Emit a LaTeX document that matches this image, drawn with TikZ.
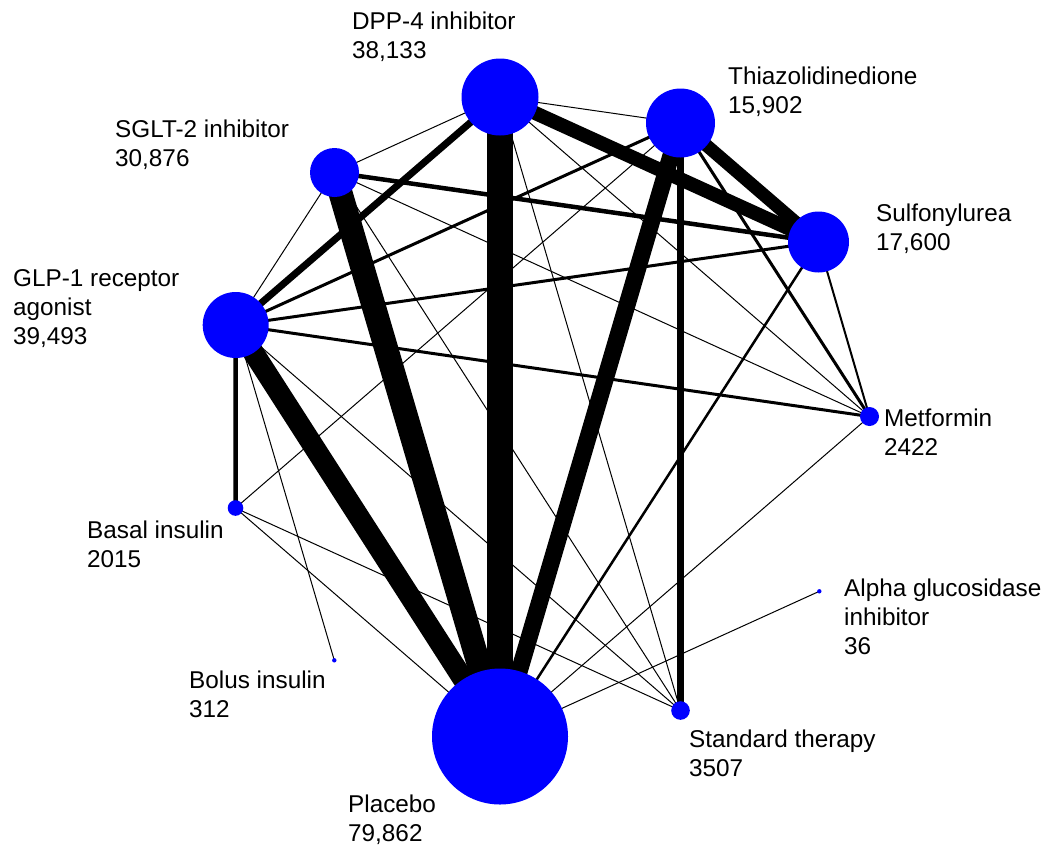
\documentclass[tikz,border=0pt]{standalone}
\usepackage{fontspec}
\setmainfont{Liberation Sans}
\pgfdeclarelayer{edges}
\pgfsetlayers{edges,main}
\begin{document}
\begin{tikzpicture}[x=1pt,y=-1pt,
  trt/.style={circle,fill=blue,draw=none,inner sep=0pt,minimum size=#1},
  lbl/.style={anchor=base west,inner sep=0pt,font=\fontsize{24.3}{29}\selectfont},
  thin/.style={line width=1pt},
  w/.style={line width=#1}]
\useasboundingbox (0,0) rectangle (1049,852);
% treatments
\node[trt=77pt]   (dpp)  at (500,97) {};
\node[trt=69pt]   (tzd)  at (680.5,123) {};
\node[trt=49pt]   (sglt) at (334.5,172.5) {};
\node[trt=61pt]   (su)   at (818.5,242) {};
\node[trt=66pt]   (glp)  at (235.7,325) {};
\node[trt=19pt]   (met)  at (869.5,416.5) {};
\node[trt=15.6pt] (bas)  at (235.5,508) {};
\node[trt=4.4pt]  (agi)  at (819.3,591.3) {};
\node[trt=4.4pt]  (bol)  at (334.3,660.3) {};
\node[trt=18.6pt] (std)  at (680.5,710.5) {};
\node[trt=136pt]  (plc)  at (500,736.5) {};
% labels
\node[lbl] (dppA) at (352,29) {DPP-4 inhibitor};
\node[lbl] (dppB) at (352,58) {38,133};
\node[lbl] (tzdA) at (728,84) {Thiazolidinedione};
\node[lbl] (tzdB) at (728,113) {15,902};
\node[lbl] (sgltA) at (115,137) {SGLT-2 inhibitor};
\node[lbl] (sgltB) at (115,166) {30,876};
\node[lbl] (suA) at (876,221) {Sulfonylurea};
\node[lbl] (suB) at (876,250) {17,600};
\node[lbl] (glpA) at (13,286) {GLP-1 receptor};
\node[lbl] (glpB) at (13,315) {agonist};
\node[lbl] (glpC) at (13,344) {39,493};
\node[lbl] (metA) at (884,426) {Metformin};
\node[lbl] (metB) at (884,455) {2422};
\node[lbl] (basA) at (87,538) {Basal insulin};
\node[lbl] (basB) at (87,567) {2015};
\node[lbl] (agiA) at (844,596) {Alpha glucosidase};
\node[lbl] (agiB) at (844,625) {inhibitor};
\node[lbl] (agiC) at (844,654) {36};
\node[lbl] (bolA) at (189,688) {Bolus insulin};
\node[lbl] (bolB) at (189,717) {312};
\node[lbl] (stdA) at (689,747) {Standard therapy};
\node[lbl] (stdB) at (689,776) {3507};
\node[lbl] (plcA) at (348,812) {Placebo};
\node[lbl] (plcB) at (348,841) {79,862};
% comparisons
\begin{pgfonlayer}{edges}
\draw[w=26pt] (dpp.center) -- (plc.center);
\draw[w=24pt] (sglt.center) -- (plc.center);
\draw[w=21pt] (glp.center) -- (plc.center);
\draw[w=17pt] (tzd.center) -- (plc.center);
\draw[w=14pt] (dpp.center) -- (su.center);
\draw[w=13pt] (tzd.center) -- (su.center);
\draw[w=7pt] (glp.center) -- (dpp.center);
\draw[w=7pt] (tzd.center) -- (std.center);
\draw[w=4.5pt] (sglt.center) -- (su.center);
\draw[w=4.5pt] (glp.center) -- (bas.center);
\draw[w=3pt] (glp.center) -- (tzd.center);
\draw[w=3pt] (glp.center) -- (su.center);
\draw[w=3pt] (glp.center) -- (met.center);
\draw[w=3pt] (tzd.center) -- (met.center);
\draw[w=2pt] (su.center) -- (met.center);
\draw[w=2.5pt] (su.center) -- (plc.center);
\draw[thin] (dpp.center) -- (sglt.center);
\draw[thin] (dpp.center) -- (tzd.center);
\draw[thin] (dpp.center) -- (met.center);
\draw[thin] (dpp.center) -- (std.center);
\draw[thin] (sglt.center) -- (glp.center);
\draw[thin] (sglt.center) -- (met.center);
\draw[thin] (sglt.center) -- (std.center);
\draw[thin] (glp.center) -- (bol.center);
\draw[thin] (glp.center) -- (std.center);
\draw[thin] (tzd.center) -- (bas.center);
\draw[thin] (bas.center) -- (plc.center);
\draw[thin] (bas.center) -- (std.center);
\draw[thin] (met.center) -- (plc.center);
\draw[thin] (agi.center) -- (plc.center);
\end{pgfonlayer}
\end{tikzpicture}
\end{document}
